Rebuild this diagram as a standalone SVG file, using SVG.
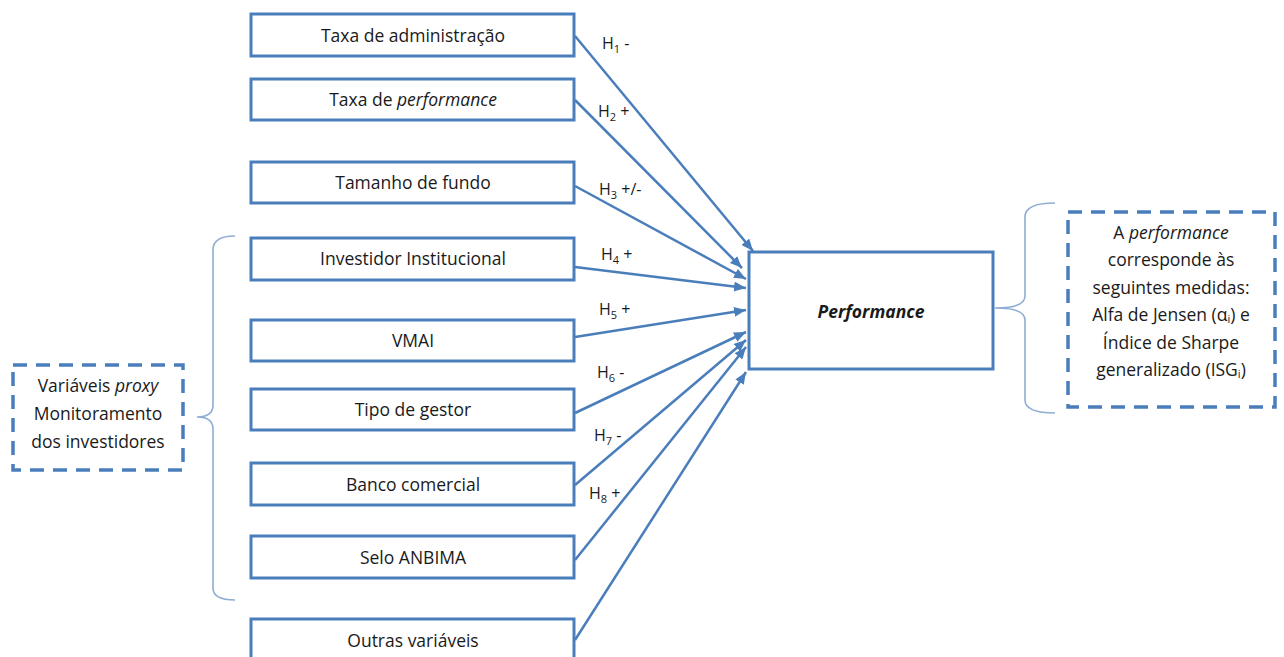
<svg xmlns="http://www.w3.org/2000/svg" width="1284" height="657" viewBox="0 0 1284 657">
<defs>
<style>
.box{fill:#fff;stroke:#4a7ebb;stroke-width:3}
.dash{fill:#fff;stroke:#4a7ebb;stroke-width:3.5;stroke-dasharray:14 9}
.lbl{font-family:"Open Sans","Liberation Sans",sans-serif;font-size:17.5px;fill:#1a1a1a;text-anchor:middle;dominant-baseline:central}
.h{font-family:"Open Sans","Liberation Sans",sans-serif;font-size:16px;fill:#1a1a1a}
.sub{font-size:11px}
.con{stroke:#4a7ebb;stroke-width:2.5;fill:none;marker-end:url(#ah)}
.brace{stroke:#8fadd3;stroke-width:1.6;fill:none}
</style>
<marker id="ah" viewBox="0 0 12 10" refX="12" refY="5" markerWidth="12" markerHeight="10" markerUnits="userSpaceOnUse" orient="auto">
<path d="M0,0 L12,5 L0,10 Z" fill="#4a7ebb"/>
</marker>
</defs>
<rect width="1284" height="657" fill="#fff"/>
<g id="connectors">
<line class="con" x1="575" y1="36" x2="753" y2="251"/>
<line class="con" x1="575" y1="100" x2="742" y2="268"/>
<line class="con" x1="575" y1="186" x2="746" y2="279"/>
<line class="con" x1="575" y1="267" x2="746" y2="288"/>
<line class="con" x1="575" y1="337" x2="746" y2="310"/>
<line class="con" x1="575" y1="413" x2="746" y2="332"/>
<line class="con" x1="575" y1="485" x2="746" y2="340"/>
<line class="con" x1="575" y1="560" x2="746" y2="347"/>
<line class="con" x1="575" y1="640" x2="746" y2="372"/>
<text class="h" x="602" y="49">H<tspan class="sub" dy="4">1</tspan><tspan dy="-4"> -</tspan></text>
<text class="h" x="598" y="117">H<tspan class="sub" dy="4">2</tspan><tspan dy="-4"> +</tspan></text>
<text class="h" x="599" y="195">H<tspan class="sub" dy="4">3</tspan><tspan dy="-4"> +/-</tspan></text>
<text class="h" x="601" y="260">H<tspan class="sub" dy="4">4</tspan><tspan dy="-4"> +</tspan></text>
<text class="h" x="599" y="315">H<tspan class="sub" dy="4">5</tspan><tspan dy="-4"> +</tspan></text>
<text class="h" x="597" y="378">H<tspan class="sub" dy="4">6</tspan><tspan dy="-4"> -</tspan></text>
<text class="h" x="594" y="441">H<tspan class="sub" dy="4">7</tspan><tspan dy="-4"> -</tspan></text>
<text class="h" x="589" y="499">H<tspan class="sub" dy="4">8</tspan><tspan dy="-4"> +</tspan></text>
</g>
<g id="braces">
<path class="brace" d="M235,236 Q213,236 213,250 L213,405 Q213,417 197,417 Q213,417 213,429 L213,588 Q213,600 235,600"/>
<path class="brace" d="M1055,203 Q1025,203 1025,217 L1025,296 Q1025,308 995,308 Q1025,308 1025,320 L1025,400 Q1025,413 1055,413"/>
</g>
<g id="n1"><rect class="box" x="251" y="14" width="323" height="42"/><text class="lbl" x="413" y="35">Taxa de administração</text></g>
<g id="n2"><rect class="box" x="251" y="79" width="323" height="41"/><text class="lbl" x="413" y="99">Taxa de <tspan font-style="italic">performance</tspan></text></g>
<g id="n3"><rect class="box" x="251" y="162" width="323" height="41"/><text class="lbl" x="413" y="182">Tamanho de fundo</text></g>
<g id="n4"><rect class="box" x="251" y="238" width="323" height="42"/><text class="lbl" x="413" y="258">Investidor Institucional</text></g>
<g id="n5"><rect class="box" x="251" y="320" width="323" height="41"/><text class="lbl" x="413" y="340">VMAI</text></g>
<g id="n6"><rect class="box" x="251" y="389" width="323" height="41"/><text class="lbl" x="413" y="409">Tipo de gestor</text></g>
<g id="n7"><rect class="box" x="251" y="463" width="323" height="42"/><text class="lbl" x="413" y="484">Banco comercial</text></g>
<g id="n8"><rect class="box" x="251" y="536" width="323" height="42"/><text class="lbl" x="413" y="557">Selo ANBIMA</text></g>
<g id="n9"><rect class="box" x="251" y="619" width="323" height="50"/><text class="lbl" x="413" y="640">Outras variáveis</text></g>
<g id="performance"><rect class="box" x="749" y="252" width="244" height="117"/><text class="lbl" x="871" y="311" font-style="italic" font-weight="bold">Performance</text></g>
<g id="proxy"><rect class="dash" x="13" y="365" width="170" height="105"/>
<text class="lbl" x="98" y="385">Variáveis <tspan font-style="italic">proxy</tspan></text>
<text class="lbl" x="98" y="413">Monitoramento</text>
<text class="lbl" x="98" y="441">dos investidores</text></g>
<g id="medidas"><rect class="dash" x="1068" y="212" width="207" height="195"/>
<text class="lbl" x="1171" y="232">A <tspan font-style="italic">performance</tspan></text>
<text class="lbl" x="1171" y="259">corresponde às</text>
<text class="lbl" x="1171" y="287">seguintes medidas:</text>
<text class="lbl" x="1171" y="314">Alfa de Jensen (α<tspan class="sub" dy="4">i</tspan><tspan dy="-4">) e</tspan></text>
<text class="lbl" x="1171" y="342">Índice de Sharpe</text>
<text class="lbl" x="1171" y="369">generalizado (ISG<tspan class="sub" dy="4">i</tspan><tspan dy="-4">)</tspan></text></g>
</svg>
